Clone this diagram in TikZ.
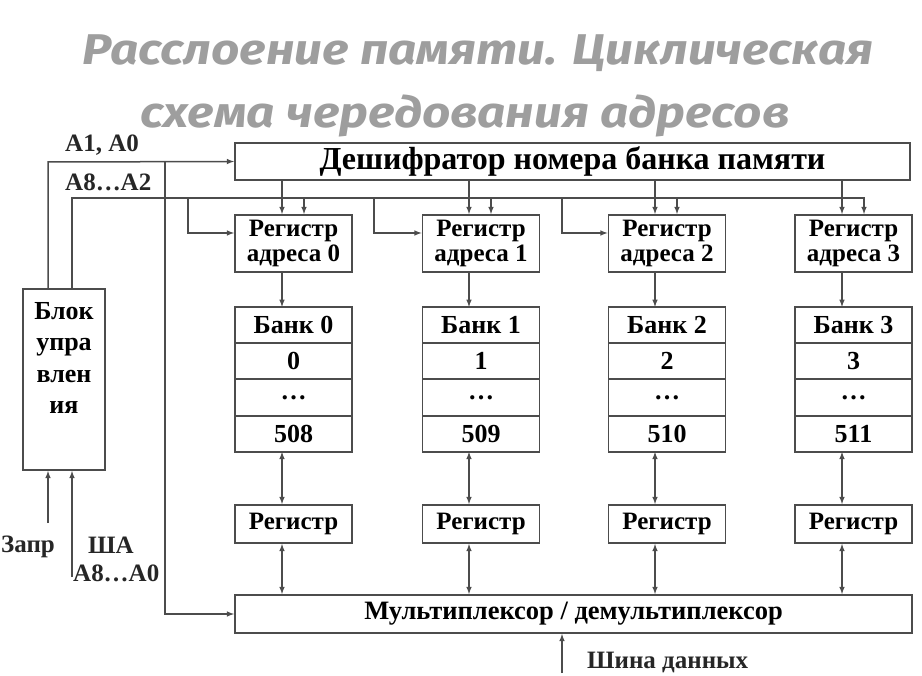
\documentclass[tikz,border=0pt]{standalone}
\usepackage{fontspec}
\setmainfont{Liberation Serif}
\newfontfamily\titlefont[FakeStretch=1.15]{Fira Sans}
\usetikzlibrary{arrows, positioning, calc}

\tikzset{
	box/.style={draw=black!70,line width=1.8pt,fill=white,inner sep=0pt,align=center,font=\bfseries\fontsize{25}{25}\selectfont},
	cell/.style={box,outer sep=0pt,minimum width=117pt,minimum height=36.25pt,font=\bfseries\fontsize{26}{26}\selectfont},
	link/.style={line width=1.5pt,draw=black!70},
	lbl/.style={inner sep=0pt,text=black!85,font=\bfseries\fontsize{25}{25}\selectfont},
	headline/.style={anchor=base,text=black!38,font=\titlefont\bfseries\itshape\fontsize{43}{43}\selectfont}
}

\begin{document}
\begin{tikzpicture}[x=1pt,y=-1pt,>=latex]
					\useasboundingbox (0,0) rectangle (922,676);

					\node (t1) at (478,65) [headline] {Расслоение памяти. Циклическая};
					\node (t2) at (465,128) [headline] {схема чередования адресов};

					\node (dec) at (572.5,161.5) [box,minimum width=675pt,minimum height=37pt,font=\bfseries\fontsize{32}{32}\selectfont] {Дешифратор номера банка памяти};
					\node (mux) at (573.5,614) [box,minimum width=677pt,minimum height=38pt,font=\bfseries\fontsize{26.5}{26.5}\selectfont] {Мультиплексор / демультиплексор};

					\node (ctrl) at (64,379.5) [box,minimum width=82pt,minimum height=181pt] {};
					\node (ctrltxt) at (64,302) [anchor=north,inner sep=0pt,align=center,font=\bfseries\fontsize{26}{31.5}\selectfont] {Блок\\упра\\влен\\ия};

					\node (r0) at (293.5,243.5) [box,minimum width=117pt,minimum height=57pt] {Регистр\\адреса 0};
					\node (r1) at (481,243.5) [box,minimum width=117pt,minimum height=57pt] {Регистр\\адреса 1};
					\node (r2) at (667,243.5) [box,minimum width=117pt,minimum height=57pt] {Регистр\\адреса 2};
					\node (r3) at (853.5,243.5) [box,minimum width=117pt,minimum height=57pt] {Регистр\\адреса 3};

					\node (b0) at (293.5,325) [cell] {Банк 0};
					\node (b0a) [cell,below=0pt of b0] {0};
					\node (b0b) [cell,below=0pt of b0a] {…};
					\node (b0c) [cell,below=0pt of b0b] {508};

					\node (b1) at (481,325) [cell] {Банк 1};
					\node (b1a) [cell,below=0pt of b1] {1};
					\node (b1b) [cell,below=0pt of b1a] {…};
					\node (b1c) [cell,below=0pt of b1b] {509};

					\node (b2) at (667,325) [cell] {Банк 2};
					\node (b2a) [cell,below=0pt of b2] {2};
					\node (b2b) [cell,below=0pt of b2a] {…};
					\node (b2c) [cell,below=0pt of b2b] {510};

					\node (b3) at (853.5,325) [cell] {Банк 3};
					\node (b3a) [cell,below=0pt of b3] {3};
					\node (b3b) [cell,below=0pt of b3a] {…};
					\node (b3c) [cell,below=0pt of b3b] {511};

					\node (g0) at (293.5,524) [box,minimum width=117pt,minimum height=38pt] {Регистр};
					\node (g1) at (481,524) [box,minimum width=117pt,minimum height=38pt] {Регистр};
					\node (g2) at (667,524) [box,minimum width=117pt,minimum height=38pt] {Регистр};
					\node (g3) at (853.5,524) [box,minimum width=117pt,minimum height=38pt] {Регистр};

					\node (la1) at (65,152) [lbl,anchor=base west] {A1, A0};
					\node (la8) at (65,191) [lbl,anchor=base west] {A8…A2};
					\node (lzp) at (1,552) [lbl,anchor=base west] {Запр};
					\node (lsha) at (88,553) [lbl,anchor=base west] {ША};
					\node (la0) at (73,581) [lbl,anchor=base west] {A8…A0};
					\node (lsd) at (587,668) [lbl,anchor=base west] {Шина данных};

					% bus corners
					\coordinate (p1) at (48,162);
					\coordinate (p2) at (72,198);
					\coordinate (m1) at (165,162);
					\coordinate (zp) at (48,523);
					\coordinate (sha) at (72,577);
					\coordinate (sd) at (562,673);

					\coordinate (x0) at (282,0);
					\coordinate (x1) at (469,0);
					\coordinate (x2) at (655,0);
					\coordinate (x3) at (842,0);
					\coordinate (y0) at (304,198);
					\coordinate (y1) at (491,198);
					\coordinate (y2) at (677,198);
					\coordinate (y3) at (864,198);
					\coordinate (s0) at (188,198);
					\coordinate (s1) at (374,198);
					\coordinate (s2) at (562,198);
					\coordinate (u0) at (188,233);
					\coordinate (u1) at (374,233);
					\coordinate (u2) at (562,233);

					\draw[link,->] (p1 |- ctrl.north) -- (p1) -- (dec.west);
					\draw[link,->] (p2 |- ctrl.north) -- (p2) -- (y3) -- (y3 |- r3.north);
					\draw[link,->] (m1) |- (mux.west);
					\draw[link,->] (zp) -- (zp |- ctrl.south);
					\draw[link,->] (sha) -- (sha |- ctrl.south);
					\draw[link,->] (sd) -- (sd |- mux.south);

					\draw[link,->] (y0) -- (y0 |- r0.north);
					\draw[link,->] (y1) -- (y1 |- r1.north);
					\draw[link,->] (y2) -- (y2 |- r2.north);

					\draw[link,->] (s0) -- (u0) -- (u0 -| r0.west);
					\draw[link,->] (s1) -- (u1) -- (u1 -| r1.west);
					\draw[link,->] (s2) -- (u2) -- (u2 -| r2.west);

					\draw[link,->] (x0 |- dec.south) -- (x0 |- r0.north);
					\draw[link,->] (x1 |- dec.south) -- (x1 |- r1.north);
					\draw[link,->] (x2 |- dec.south) -- (x2 |- r2.north);
					\draw[link,->] (x3 |- dec.south) -- (x3 |- r3.north);

					\draw[link,->] (x0 |- r0.south) -- (x0 |- b0.north);
					\draw[link,->] (x1 |- r1.south) -- (x1 |- b1.north);
					\draw[link,->] (x2 |- r2.south) -- (x2 |- b2.north);
					\draw[link,->] (x3 |- r3.south) -- (x3 |- b3.north);

					\draw[link,<->] (x0 |- b0c.south) -- (x0 |- g0.north);
					\draw[link,<->] (x1 |- b1c.south) -- (x1 |- g1.north);
					\draw[link,<->] (x2 |- b2c.south) -- (x2 |- g2.north);
					\draw[link,<->] (x3 |- b3c.south) -- (x3 |- g3.north);

					\draw[link,<->] (x0 |- g0.south) -- (x0 |- mux.north);
					\draw[link,<->] (x1 |- g1.south) -- (x1 |- mux.north);
					\draw[link,<->] (x2 |- g2.south) -- (x2 |- mux.north);
					\draw[link,<->] (x3 |- g3.south) -- (x3 |- mux.north);
				\end{tikzpicture}
\end{document}
